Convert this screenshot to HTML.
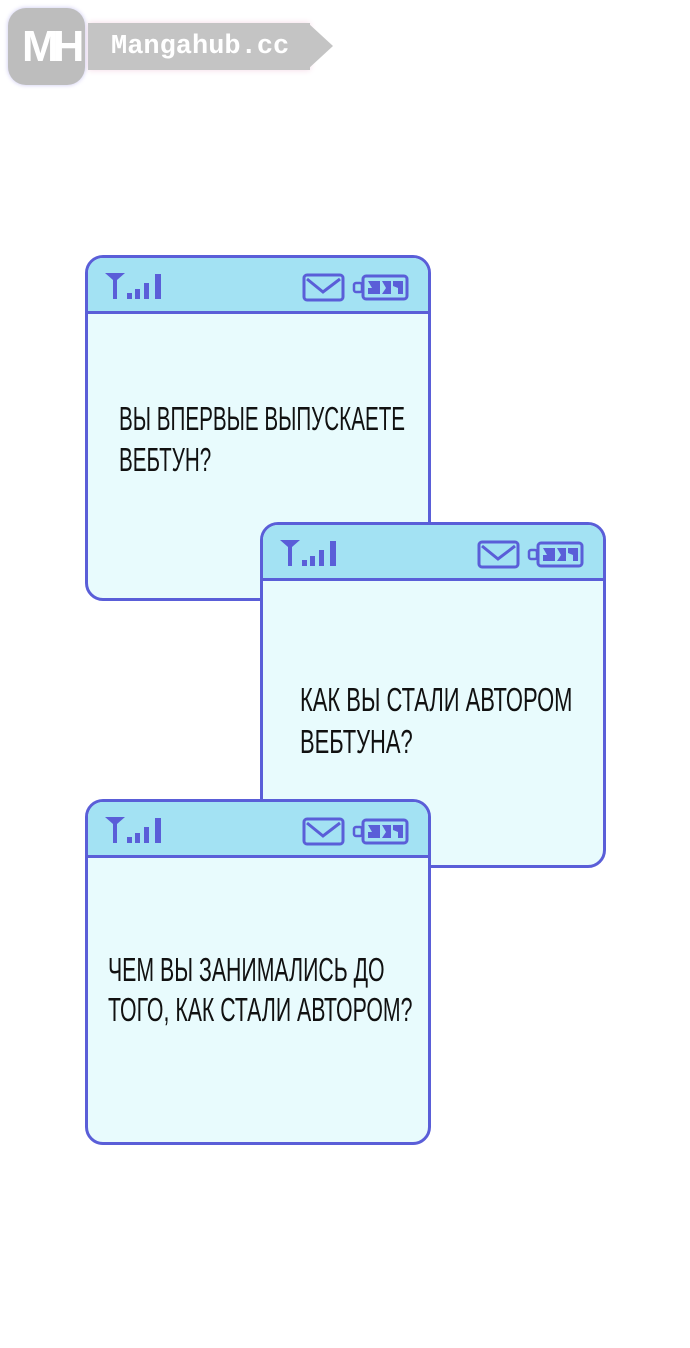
<!DOCTYPE html>
<html><head><meta charset="utf-8"><style>
body{margin:0;width:690px;height:1348px;background:#fff;position:relative;overflow:hidden;font-family:"Liberation Sans",sans-serif}
.card{position:absolute;width:340px;height:340px;border:3px solid #5a5ed8;border-radius:18px;background:#e8fbfd;overflow:hidden}
.hdr{position:absolute;left:0;top:0;width:100%;height:53px;background:#a3e2f3;border-bottom:3px solid #5a5ed8}
.hdr svg{position:absolute;left:0;top:0}
.t{position:absolute;font-size:33px;line-height:41px;color:#111;white-space:nowrap;transform-origin:0 0;letter-spacing:0px}
</style></head><body>
<div style="position:absolute;left:88px;top:23px;width:222px;height:47px;background:#c4c4c4;box-shadow:0 0 6px #f4d8e6"></div>
<div style="position:absolute;left:308px;top:23px;width:0;height:0;border-top:23.5px solid transparent;border-bottom:23.5px solid transparent;border-left:25px solid #c4c4c4"></div>
<div style="position:absolute;left:111px;top:28px;font-family:'Liberation Mono',monospace;font-size:27px;line-height:38px;color:#fff;font-weight:bold">Mangahub.cc</div>
<div style="position:absolute;left:8px;top:8px;width:77px;height:77px;border-radius:18px;background:#bdbdbd;box-shadow:0 0 5px #c9c6f0"></div>
<div style="position:absolute;left:22px;top:22px;font-size:44px;font-weight:bold;color:#fff;line-height:50px;letter-spacing:-6px">MH</div>

<svg width="0" height="0" style="position:absolute"><defs>
<g id="ic" fill="#5a5ed8">
<polygon points="17,15 37,15 29,22 29,41 25,41 25,22"/>
<rect x="39" y="35" width="5" height="6"/><rect x="47" y="31" width="5" height="10"/><rect x="56" y="25" width="5" height="16"/><rect x="67" y="16" width="6" height="25"/>
<rect x="216" y="17" width="39" height="25" rx="3" fill="none" stroke="#5a5ed8" stroke-width="3"/>
<polyline points="219,21 235,34 252,21" fill="none" stroke="#5a5ed8" stroke-width="3"/>
<rect x="275" y="18" width="44" height="23" rx="3" fill="none" stroke="#5a5ed8" stroke-width="3"/>
<rect x="266" y="25" width="8" height="9" rx="2" fill="none" stroke="#5a5ed8" stroke-width="2.5"/>
<polygon points="280,23 292,23 292,36 280,36 280,30 284,30"/><polygon points="294,23 303,23 303,36 294,36 298,30"/><polygon points="305,23 315,23 315,36 310,36 310,30 305,28"/>
</g></defs></svg>

<div class="card" style="left:85px;top:255px">
<div class="hdr"><svg width="345" height="56"><use href="#ic"/></svg></div>
<div class="t" style="left:31px;top:140px;transform:scaleX(0.625)">ВЫ ВПЕРВЫЕ ВЫПУСКАЕТЕ</div>
<div class="t" style="left:31px;top:181px;transform:scaleX(0.625)">ВЕБТУН?</div>
</div>
<div class="card" style="left:260px;top:522px">
<div class="hdr"><svg width="345" height="56"><use href="#ic"/></svg></div>
<div class="t" style="left:37px;top:154px;transform:scaleX(0.665)">КАК ВЫ СТАЛИ АВТОРОМ</div>
<div class="t" style="left:37px;top:196px;transform:scaleX(0.665)">ВЕБТУНА?</div>
</div>
<div class="card" style="left:85px;top:799px">
<div class="hdr"><svg width="345" height="56"><use href="#ic"/></svg></div>
<div class="t" style="left:20px;top:147px;transform:scaleX(0.645)">ЧЕМ ВЫ ЗАНИМАЛИСЬ ДО</div>
<div class="t" style="left:20px;top:187px;transform:scaleX(0.645)">ТОГО, КАК СТАЛИ АВТОРОМ?</div>
</div>
</body></html>
